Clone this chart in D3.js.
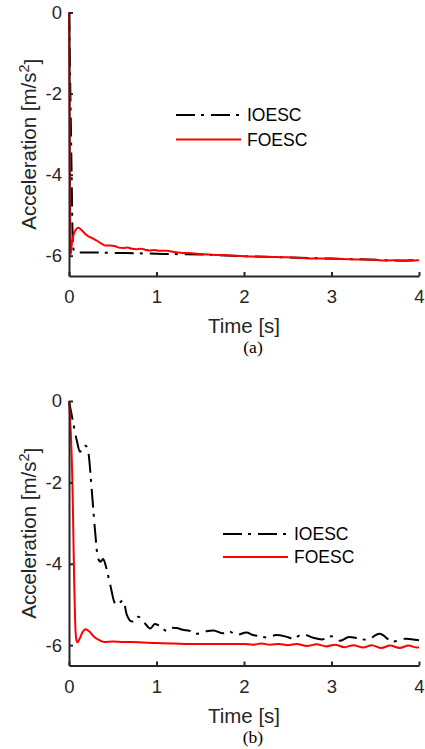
<!DOCTYPE html>
<html><head><meta charset="utf-8">
<script src="https://cdn.jsdelivr.net/npm/d3@7/dist/d3.min.js"></script>
<style>
body{margin:0;background:#fff;}
svg{display:block;font-family:"Liberation Sans",Arial,sans-serif;}
</style>
</head><body>
<svg id="c" width="425" height="749"></svg>
<script>
// ---------- data ----------
const seriesNames = ["IOESC", "FOESC"];
const xTicks = [0, 1, 2, 3, 4];
const yTicks = [0, -2, -4, -6];
const xDomain = [0, 4];
const yDomain = [-6.5, 0];
const panelLabels = ["(a)", "(b)"];

// panel (a)
const tA_IOESC = [0, 0.005, 0.01, 0.02, 0.03, 0.04, 0.05, 0.06, 0.1, 0.3, 0.5, 0.8, 1.0, 1.2, 1.5, 2.0, 2.5, 3.0, 3.5, 3.8, 4.0];
const vA_IOESC = [0, -0.5, -1.2, -2.6, -4.0, -5.4, -5.82, -5.9, -5.92, -5.92, -5.93, -5.94, -5.95, -5.96, -5.97, -6.01, -6.04, -6.07, -6.10, -6.12, -6.11];
const tA_FOESC = [0, 0.005, 0.01, 0.015, 0.02, 0.03, 0.05, 0.08, 0.11, 0.14, 0.18, 0.22, 0.27, 0.32, 0.37, 0.42, 0.47, 0.52, 0.57, 0.62, 0.67, 0.72, 0.77, 0.82, 0.87, 0.92, 0.97, 1.05, 1.12, 1.2, 1.3, 1.4, 1.5, 1.7, 1.9, 2.1, 2.3, 2.5, 2.7, 2.9, 3.1, 3.3, 3.5, 3.6, 3.7, 3.8, 3.9, 4.0];
const vA_FOESC = [0, -1.8, -3.8, -5.4, -5.97, -5.75, -5.5, -5.35, -5.31, -5.36, -5.45, -5.52, -5.57, -5.63, -5.70, -5.75, -5.75, -5.76, -5.80, -5.81, -5.80, -5.83, -5.84, -5.83, -5.85, -5.87, -5.86, -5.88, -5.88, -5.91, -5.93, -5.94, -5.96, -5.98, -6.0, -6.02, -6.03, -6.04, -6.06, -6.07, -6.08, -6.09, -6.10, -6.12, -6.11, -6.13, -6.12, -6.11];

// panel (b)
const tB_IOESC = [0, 0.04, 0.088, 0.126, 0.16, 0.19, 0.22, 0.26, 0.297, 0.33, 0.36, 0.39, 0.42, 0.45, 0.48, 0.51, 0.54, 0.58, 0.62, 0.66, 0.72, 0.76, 0.79, 0.85, 0.93, 0.98, 1.03, 1.12, 1.17, 1.23, 1.3, 1.38, 1.45, 1.5, 1.57, 1.65, 1.76, 1.84, 1.91, 2.03, 2.1, 2.18, 2.26, 2.37, 2.48, 2.56, 2.67, 2.79, 2.89, 3.0, 3.1, 3.2, 3.3, 3.4, 3.55, 3.7, 3.85, 4.0];
const vB_IOESC = [0, -0.45, -0.96, -1.25, -1.12, -1.1, -1.25, -2.19, -3.17, -3.85, -3.95, -3.88, -4.05, -4.32, -4.6, -4.89, -5.0, -4.95, -4.9, -5.25, -5.42, -5.33, -5.30, -5.42, -5.59, -5.48, -5.52, -5.65, -5.57, -5.58, -5.62, -5.65, -5.72, -5.71, -5.66, -5.64, -5.71, -5.67, -5.75, -5.69, -5.75, -5.78, -5.81, -5.75, -5.79, -5.84, -5.73, -5.82, -5.86, -5.78, -5.89, -5.8, -5.83, -5.87, -5.72, -5.91, -5.84, -5.88];
const tB_FOESC = [0, 0.01, 0.02, 0.03, 0.04, 0.05, 0.06, 0.07, 0.08, 0.095, 0.12, 0.15, 0.19, 0.23, 0.28, 0.33, 0.4, 0.5, 0.6, 0.8, 1.0, 1.2, 1.5, 1.8, 2.0, 2.1, 2.2, 2.3, 2.4, 2.5, 2.6, 2.72, 2.83, 2.94, 3.04, 3.15, 3.25, 3.36, 3.46, 3.57, 3.67, 3.78, 3.88, 3.98, 4.0];
const vB_FOESC = [0, -0.3, -0.75, -1.3, -2.1, -3.3, -4.5, -5.4, -5.8, -5.93, -5.85, -5.7, -5.61, -5.66, -5.78, -5.86, -5.92, -5.91, -5.92, -5.93, -5.95, -5.96, -5.97, -5.97, -5.97, -5.99, -5.96, -5.99, -5.97, -6.0, -5.97, -6.02, -5.98, -6.03, -5.99, -6.05, -6.0, -6.06, -6.0, -6.07, -6.01, -6.07, -6.01, -6.06, -6.05];

// ---------- drawing ----------
const svg = d3.select("#c");
const axisColor = "#262626";
const colors = {IOESC: "#000000", FOESC: "#ff0000"};
const dashes = {IOESC: "19,6,3,7", FOESC: null};

const panels = [
  {label: panelLabels[0], top: 12.5, bottom: 276, legX: 176, legY: 115, legGap: 24.5,
   series: {IOESC: [tA_IOESC, vA_IOESC], FOESC: [tA_FOESC, vA_FOESC]}},
  {label: panelLabels[1], top: 401, bottom: 665.5, legX: 223, legY: 534, legGap: 23,
   series: {IOESC: [tB_IOESC, vB_IOESC], FOESC: [tB_FOESC, vB_FOESC]}}
];

const left = 69, right = 419;

panels.forEach(p => {
  const g = svg.append("g");
  const x = d3.scaleLinear().domain(xDomain).range([left, right]);
  const y = d3.scaleLinear().domain(yDomain).range([p.bottom, p.top]);

  // lines
  const line = d3.line().x(d => x(d[0])).y(d => y(d[1])).curve(d3.curveMonotoneX);
  seriesNames.forEach(name => {
    const [ts, vs] = p.series[name];
    const pts = ts.map((t, i) => [t, vs[i]]);
    g.append("path").datum(pts)
      .attr("d", line)
      .attr("fill", "none")
      .attr("stroke", colors[name])
      .attr("stroke-width", 2)
      .attr("stroke-dasharray", dashes[name])
      .attr("stroke-linejoin", "round");
  });

  // axes
  const ax = g.append("g").attr("transform", `translate(0,${p.bottom})`)
    .call(d3.axisBottom(x).tickValues(xTicks).tickFormat(d => String(d))
      .tickSizeInner(-4).tickSizeOuter(0).tickPadding(14));
  const ay = g.append("g").attr("transform", `translate(${left},0)`)
    .call(d3.axisLeft(y).tickValues(yTicks).tickFormat(d => String(d))
      .tickSizeInner(-4).tickSizeOuter(0).tickPadding(7));
  [ax, ay].forEach(a => {
    a.select(".domain").attr("stroke", axisColor).attr("stroke-width", 2);
    a.selectAll(".tick line").attr("stroke", axisColor).attr("stroke-width", 2);
    a.selectAll(".tick text").attr("fill", axisColor)
      .style("font-family", '"Liberation Sans",Arial,sans-serif').style("font-size", "18.5px");
  });

  // axis titles
  g.append("text").attr("x", (left + right) / 2).attr("y", p.bottom + 57)
    .attr("text-anchor", "middle").attr("fill", axisColor)
    .style("font-size", "20.5px").text("Time [s]");
  const yl = g.append("text")
    .attr("transform", `translate(36,${(p.top + p.bottom) / 2}) rotate(-90)`)
    .attr("text-anchor", "middle").attr("fill", axisColor)
    .style("font-size", "20.5px");
  yl.append("tspan").text("Acceleration [m/s");
  yl.append("tspan").attr("dy", "-0.45em").style("font-size", "14.5px").text("2");
  yl.append("tspan").attr("dy", "0.45em").text("]");

  // panel caption
  g.append("text").attr("x", 253).attr("y", p.bottom + 77)
    .attr("text-anchor", "middle").attr("fill", "#000")
    .style("font-family", '"Liberation Serif","Times New Roman",serif')
    .style("font-size", "17.5px").text(p.label);

  // legend
  seriesNames.forEach((name, i) => {
    const ly = p.legY + i * p.legGap;
    g.append("line").attr("x1", p.legX).attr("x2", p.legX + 65)
      .attr("y1", ly).attr("y2", ly)
      .attr("stroke", colors[name]).attr("stroke-width", 2)
      .attr("stroke-dasharray", dashes[name]);
    g.append("text").attr("x", p.legX + 71).attr("y", ly)
      .attr("dominant-baseline", "central").attr("fill", "#000")
      .style("font-size", "17.5px").text(name);
  });
});
</script>
</body></html>
